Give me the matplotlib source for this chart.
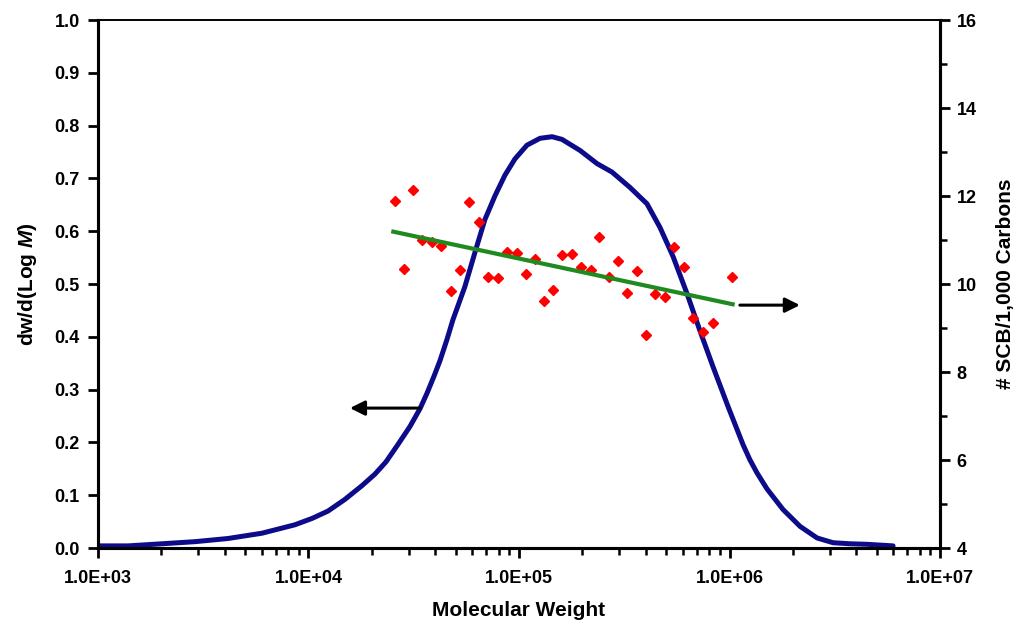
import numpy as np
import matplotlib
matplotlib.use("Agg")
import matplotlib.pyplot as plt
from matplotlib.ticker import LogLocator, FixedLocator, MultipleLocator, FuncFormatter

plt.rcParams['font.family'] = ['Liberation Sans', 'DejaVu Sans']
plt.rcParams['font.weight'] = 'bold'
plt.rcParams['mathtext.fontset'] = 'custom'
plt.rcParams['mathtext.bfit'] = 'Liberation Sans:italic:bold'

# ------------------------
# Data
# ------------------------
# molecular weight distribution (left axis), x given as log10(M)
log_mw_curve = [3.000, 3.143, 3.304, 3.461, 3.618, 3.779, 3.936, 4.017, 4.093, 4.173,
                4.254, 4.316, 4.368, 4.420, 4.482, 4.530, 4.563, 4.596, 4.625, 4.658,
                4.686, 4.743, 4.791, 4.838, 4.886, 4.933, 4.981, 5.038, 5.100, 5.157,
                5.204, 5.290, 5.371, 5.442, 5.527, 5.608, 5.670, 5.732, 5.798, 5.860,
                5.922, 5.993, 6.064, 6.097, 6.131, 6.178, 6.254, 6.335, 6.416, 6.492,
                6.572, 6.653, 6.777]
dwdlogm = [0.004, 0.004, 0.008, 0.012, 0.018, 0.028, 0.044, 0.056, 0.070, 0.092,
           0.118, 0.140, 0.163, 0.193, 0.230, 0.264, 0.293, 0.325, 0.355, 0.395,
           0.432, 0.495, 0.560, 0.622, 0.667, 0.706, 0.737, 0.763, 0.776, 0.779,
           0.774, 0.753, 0.728, 0.712, 0.683, 0.652, 0.607, 0.552, 0.482, 0.411,
           0.343, 0.268, 0.196, 0.167, 0.142, 0.112, 0.073, 0.041, 0.019, 0.010,
           0.008, 0.007, 0.004]

# short chain branching points (right axis)
mw_scb = [25760, 31480, 58070, 64710, 34750, 38460, 42560, 28510, 52480, 47530,
          71450, 79250, 87500, 97500, 119100, 107650, 144500, 131500, 160700, 177800,
          240400, 196300, 219300, 267900, 296500, 362200, 327300, 442600, 494300, 400900,
          547000, 609500, 673000, 751600, 831800, 1023000]
scb = [11.89, 12.14, 11.87, 11.40, 11.00, 10.96, 10.86, 10.34, 10.32, 9.85,
       10.15, 10.13, 10.73, 10.70, 10.56, 10.22, 9.86, 9.61, 10.66, 10.68,
       11.06, 10.39, 10.32, 10.15, 10.52, 10.30, 9.80, 9.77, 9.70, 8.84,
       10.83, 10.38, 9.22, 8.92, 9.12, 10.17]

# trend line end points
mw_fit = [25300, 1035000]
scb_fit = [11.19, 9.54]

# arrow annotations (tail, head) in left-axis data units
arrow_left = ((33900, 0.265), (15740, 0.265))
arrow_right = ((1120000, 0.460), (2160000, 0.460))

x_ticks = [1e3, 1e4, 1e5, 1e6, 1e7]

mw_curve = 10 ** np.array(log_mw_curve)

# ------------------------
# Plot
# ------------------------
fig = plt.figure(figsize=(10.2, 6.26), dpi=100)
ax = fig.add_axes([0.096, 0.1246, 0.8256, 0.8434])
ax2 = ax.twinx()

ax.plot(mw_curve, dwdlogm, color='#0c0c8a', lw=3.6, solid_capstyle='round',
        solid_joinstyle='round', zorder=2)
ax2.plot(mw_scb, scb, linestyle='none', marker='D', ms=5, color='#ff0000',
         markeredgecolor='#ff0000', zorder=3)
ax2.plot(mw_fit, scb_fit, color='#1f8a1f', lw=3, zorder=4)

for tail, head in (arrow_left, arrow_right):
    ax.annotate('', xy=head, xytext=tail,
                arrowprops=dict(arrowstyle='-|>', color='black', lw=2.2,
                                mutation_scale=22, shrinkA=0, shrinkB=0))

ax.set_xscale('log')
ax.set_xlim(1e3, 1e7)
ax.set_ylim(0, 1.0)
ax2.set_ylim(4, 16)

ax.xaxis.set_major_locator(FixedLocator(x_ticks))
ax.xaxis.set_minor_locator(LogLocator(base=10, subs=np.arange(2, 10)))
ax.xaxis.set_major_formatter(FuncFormatter(lambda v, p: f"{v:.1E}"))
ax.yaxis.set_major_locator(MultipleLocator(0.1))
ax.yaxis.set_major_formatter(FuncFormatter(lambda v, p: f"{v:.1f}"))
ax2.yaxis.set_major_locator(MultipleLocator(2))
ax2.yaxis.set_minor_locator(MultipleLocator(1))

ax.tick_params(axis='both', which='major', direction='out', length=7, width=2,
               labelsize=13, pad=6)
ax.tick_params(axis='x', which='minor', direction='out', length=5, width=1.8)
ax.tick_params(axis='x', which='major', pad=9)
ax2.tick_params(axis='y', which='major', direction='out', length=7, width=2,
                labelsize=13, pad=5)
ax2.tick_params(axis='y', which='minor', direction='out', length=5, width=1.8)

for a in (ax, ax2):
    for side in ('left', 'right', 'bottom'):
        a.spines[side].set_linewidth(2.2)
    a.spines['top'].set_linewidth(1.2)

ax.set_xlabel('Molecular Weight', fontsize=15, fontweight='bold', labelpad=10)
ax.set_ylabel(r'dw/d(Log $\boldsymbol{M}$)', fontsize=15, fontweight='bold', labelpad=11)
ax2.set_ylabel('# SCB/1,000 Carbons', fontsize=15, fontweight='bold', labelpad=14)

fig.savefig('out.png', dpi=100)
